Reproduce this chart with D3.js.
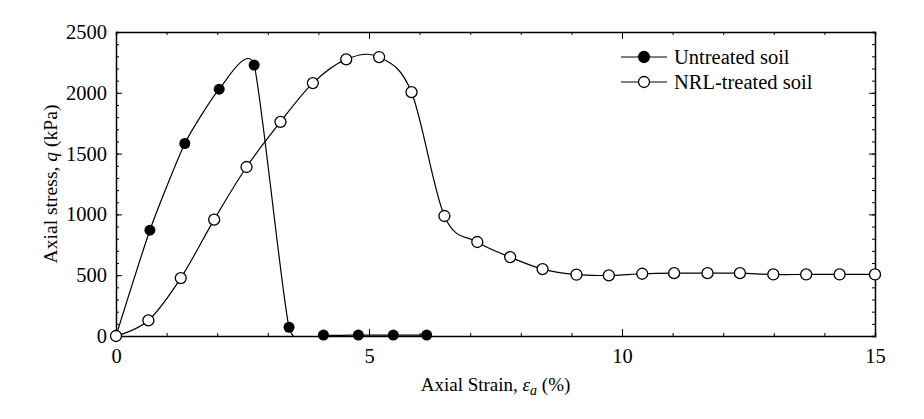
<!DOCTYPE html>
<html>
<head>
<meta charset="utf-8">
<script src="https://cdn.jsdelivr.net/npm/d3@7"></script>
<style>
  body { margin: 0; background: #fff; }
  .axis path { stroke: #000; stroke-width: 1.5; }
  .axis line { stroke: #000; stroke-width: 1; }
</style>
</head>
<body>
<svg id="chart" width="924" height="419"></svg>
<script>
// Untreated soil (filled markers)
var untreatedStrain = [0, 0.67, 1.36, 2.04, 2.73, 3.42, 4.10, 4.79, 5.48, 6.14];
var untreatedStress = [0, 870, 1583, 2030, 2228, 72, 8, 8, 8, 8];

// NRL-treated soil (open markers)
var treatedStrain = [0, 0.64, 1.28, 1.94, 2.58, 3.25, 3.89, 4.55, 5.20, 5.84, 6.49, 7.14, 7.79, 8.43,
                     9.10, 9.74, 10.40, 11.03, 11.69, 12.33, 12.99, 13.64, 14.30, 15.0];
var treatedStress = [0, 128, 476, 957, 1390, 1761, 2080, 2275, 2294, 2005, 987, 773, 649, 550,
                     504, 498, 512, 517, 517, 517, 506, 506, 506, 506];

var xTicks = [0, 5, 10, 15];
var yTicks = [0, 500, 1000, 1500, 2000, 2500];
var seriesNames = ["Untreated soil", "NRL-treated soil"];

var SERIF = "'Liberation Serif', 'Times New Roman', Times, serif";
var svg = d3.select("#chart").attr("font-family", SERIF);
var margin = {left: 116, right: 49, top: 32, bottom: 83};
var W = 924, H = 419;
var x = d3.scaleLinear().domain([0, 15]).range([margin.left, W - margin.right]);
var y = d3.scaleLinear().domain([0, 2500]).range([H - margin.bottom, margin.top]);

// clip for curves
svg.append("clipPath").attr("id", "plotclip")
   .append("rect")
   .attr("x", x(0)).attr("y", y(2500))
   .attr("width", x(15) - x(0)).attr("height", y(0) - y(2500));

// Axes: labelled majors + minor ticks, all pointing inward
function fmt(d) { return d; }
var gx = svg.append("g").attr("class", "axis").attr("transform", "translate(0," + y(0) + ")");
gx.call(d3.axisBottom(x).tickValues(d3.range(0, 16)).tickSize(-3).tickFormat(""));
gx.append("g").call(d3.axisBottom(x).tickValues(xTicks).tickSize(-7).tickPadding(12).tickFormat(fmt));
var gxt = svg.append("g").attr("class", "axis").attr("transform", "translate(0," + y(2500) + ")");
gxt.call(d3.axisTop(x).tickValues(d3.range(0, 16)).tickSize(-3).tickFormat(""));
gxt.append("g").call(d3.axisTop(x).tickValues(xTicks).tickSize(-7).tickFormat(""));

var gy = svg.append("g").attr("class", "axis").attr("transform", "translate(" + x(0) + ",0)");
gy.call(d3.axisLeft(y).tickValues(d3.range(0, 2501, 100)).tickSize(-3).tickFormat(""));
gy.append("g").call(d3.axisLeft(y).tickValues(yTicks).tickSize(-6).tickPadding(9).tickFormat(fmt));
var gyr = svg.append("g").attr("class", "axis").attr("transform", "translate(" + x(15) + ",0)");
gyr.call(d3.axisRight(y).tickValues(d3.range(0, 2501, 100)).tickSize(-3).tickFormat(""));
gyr.append("g").call(d3.axisRight(y).tickValues(yTicks).tickSize(-6).tickFormat(""));
svg.selectAll(".axis g .domain").remove();
svg.selectAll(".axis, .axis g").attr("font-family", SERIF).attr("font-size", 20.5);
svg.selectAll(".axis text").style("font-family", SERIF).style("font-size", "20.5px").attr("fill", "#000");

// Curves
var untreated = untreatedStrain.map(function(d, i) { return [d, untreatedStress[i]]; });
var treated = treatedStrain.map(function(d, i) { return [d, treatedStress[i]]; });

function makeLine(t) {
  return d3.line()
    .x(function(d) { return x(d[0]); })
    .y(function(d) { return y(d[1]); })
    .curve(d3.curveCardinal.tension(t));
}

svg.append("path").datum(untreated)
   .attr("clip-path", "url(#plotclip)")
   .attr("d", makeLine(0.45))
   .attr("fill", "none").attr("stroke", "#000").attr("stroke-width", 1.2);
svg.append("path").datum(treated)
   .attr("clip-path", "url(#plotclip)")
   .attr("d", makeLine(0))
   .attr("fill", "none").attr("stroke", "#000").attr("stroke-width", 1.2);

svg.selectAll("circle.untreated").data(untreated).enter()
   .append("circle").attr("class", "untreated")
   .attr("cx", function(d) { return x(d[0]); })
   .attr("cy", function(d) { return y(d[1]); })
   .attr("r", 5.5).attr("fill", "#000");
svg.selectAll("circle.treated").data(treated).enter()
   .append("circle").attr("class", "treated")
   .attr("cx", function(d) { return x(d[0]); })
   .attr("cy", function(d) { return y(d[1]); })
   .attr("r", 5.5).attr("fill", "#fff").attr("stroke", "#000").attr("stroke-width", 1.3);

// Legend
var leg = svg.append("g").attr("transform", "translate(621,57)");
seriesNames.forEach(function(name, i) {
  var g = leg.append("g").attr("transform", "translate(0," + (i * 25) + ")");
  g.append("line").attr("x1", 0).attr("x2", 46).attr("stroke", "#000").attr("stroke-width", 1.2);
  g.append("circle").attr("cx", 23).attr("r", 5.5)
   .attr("fill", i == 0 ? "#000" : "#fff").attr("stroke", "#000").attr("stroke-width", 1.3);
  g.append("text").attr("x", 53).attr("y", 7)
   .attr("font-family", SERIF)
   .style("font-family", SERIF).style("font-size", "20.5px").text(name);
});

// Axis titles
var xt = svg.append("text").attr("x", (x(0) + x(15)) / 2).attr("y", 391)
  .attr("text-anchor", "middle").style("font-family", SERIF).style("font-size", "19px");
xt.append("tspan").text("Axial Strain, ");
xt.append("tspan").attr("font-style", "italic").text("ε");
xt.append("tspan").attr("font-style", "italic").style("font-size", "14px").attr("dy", 4).text("a");
xt.append("tspan").attr("dy", -4).text(" (%)");

var yt = svg.append("text")
  .attr("transform", "translate(57," + ((y(0) + y(2500)) / 2) + ") rotate(-90)")
  .attr("text-anchor", "middle").style("font-family", SERIF).style("font-size", "19.6px");
yt.append("tspan").text("Axial stress, ");
yt.append("tspan").attr("font-style", "italic").text("q");
yt.append("tspan").text(" (kPa)");
</script>
</body>
</html>
